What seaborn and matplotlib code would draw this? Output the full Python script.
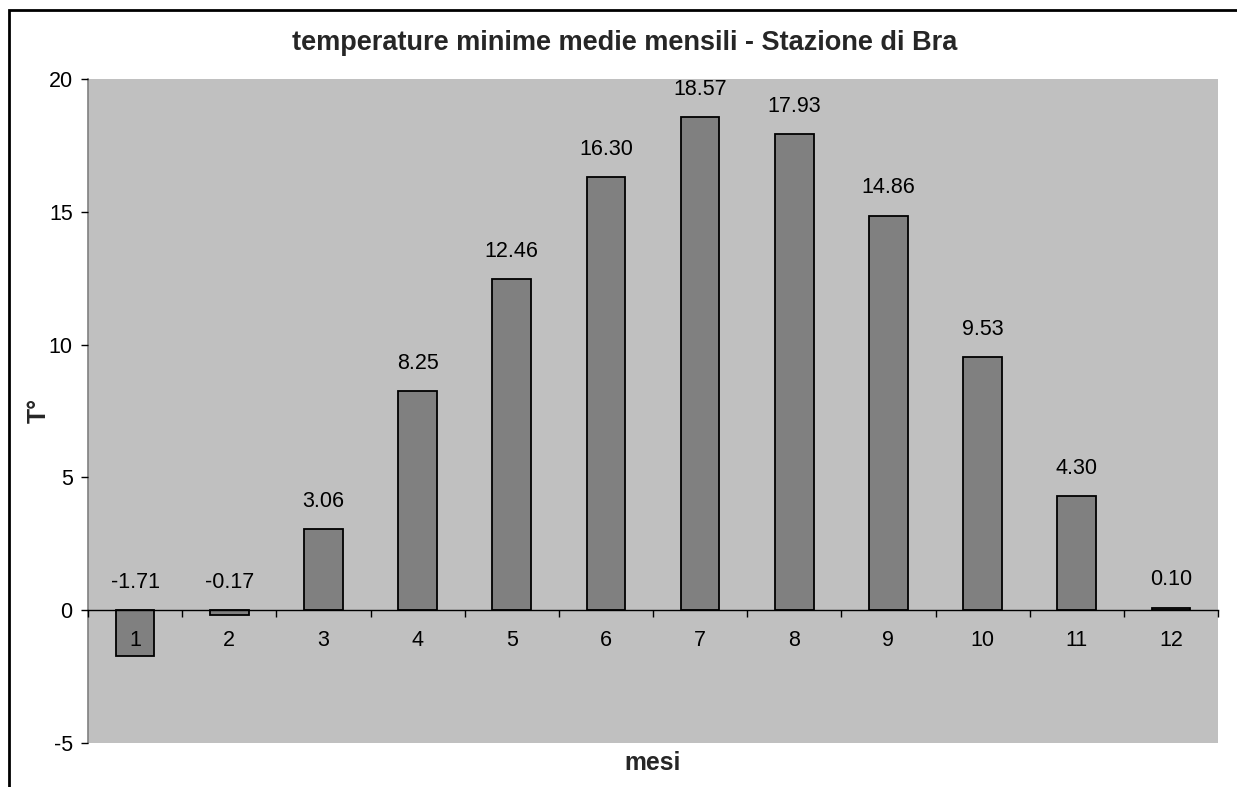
import matplotlib
matplotlib.use("Agg")
import matplotlib.pyplot as plt
import seaborn as sns
import pandas as pd
from matplotlib.patches import Rectangle
from matplotlib.ticker import FixedLocator

months = ["1", "2", "3", "4", "5", "6", "7", "8", "9", "10", "11", "12"]
temps = [-1.71, -0.17, 3.06, 8.25, 12.46, 16.30, 18.57, 17.93, 14.86, 9.53, 4.30, 0.10]
yticks = [-5, 0, 5, 10, 15, 20]

title = "temperature minime medie mensili - Stazione di Bra"
xlabel = "mesi"
ylabel = "T°"

sns.set_theme(style="white")
plt.rcParams["font.family"] = ["Liberation Sans", "DejaVu Sans"]

df = pd.DataFrame({"mese": months, "T": temps})

fig = plt.figure(figsize=(12.37, 7.87), dpi=100)
fig.patch.set_facecolor("white")
ax = fig.add_axes([88 / 1237, 1 - 743 / 787, (1218 - 88) / 1237, (743 - 79) / 787])
ax.set_facecolor("#C0C0C0")

sns.barplot(data=df, x="mese", y="T", ax=ax, color="#808080", width=0.41,
            edgecolor="black", linewidth=1.3, saturation=1)
ax.set_axisbelow(False)

ax.set_xlim(-0.5, 11.5)
ax.set_ylim(-5, 20)
ax.set_yticks(yticks)
ax.set_yticklabels([str(t) for t in yticks], fontsize=15.5, color="black")

# x axis crossing at zero
for s in ["top", "right"]:
    ax.spines[s].set_visible(False)
ax.spines["bottom"].set_position(("data", 0))
ax.spines["bottom"].set_color("black")
ax.spines["bottom"].set_linewidth(1)
ax.spines["left"].set_color("#808080")
ax.spines["left"].set_linewidth(1.2)

ax.tick_params(axis="x", which="major", length=0, pad=14, labelsize=15.5, labelcolor="black")
ax.xaxis.set_minor_locator(FixedLocator([i - 0.5 for i in range(13)]))
ax.tick_params(axis="x", which="minor", length=5, width=1, color="black", direction="out", bottom=True)
ax.tick_params(axis="y", which="major", length=5, width=1, color="black", direction="out", left=True, pad=6)

for i, v in enumerate(temps):
    ax.annotate(f"{v:.2f}", xy=(i, max(v, 0)), xytext=(0, 20), textcoords="offset points",
                ha="center", va="center", fontsize=15.5, color="black")

ax.set_xlabel("")
ax.set_ylabel("")
fig.text((88 + 1218) / 2 / 1237, 1 - 763 / 787, xlabel, ha="center", va="center",
         fontsize=17.8, fontweight="bold")
fig.text(39 / 1237, 1 - 410 / 787, ylabel, ha="center", va="center", rotation=90,
         fontsize=17.8, fontweight="bold")
fig.text(625 / 1237, 1 - 43 / 787, title, ha="center", va="center",
         fontsize=19.5, fontweight="bold")

fig.patches.append(Rectangle((9 / 1237, -0.1), 1.2, 1 - 10 / 787 + 0.1,
                             transform=fig.transFigure, fill=False,
                             edgecolor="black", linewidth=2, figure=fig))

fig.savefig("out.png", dpi=100)
